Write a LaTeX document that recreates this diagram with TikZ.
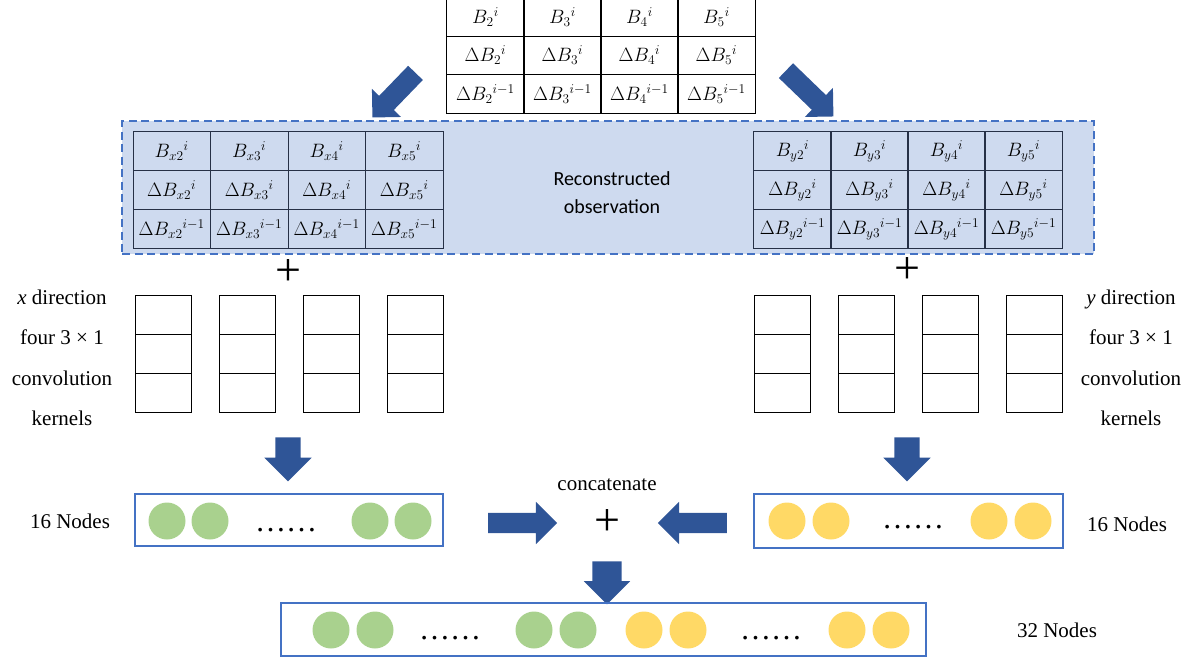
\documentclass[tikz,border=0pt]{standalone}
\usepackage{graphicx}
\usepackage{fontspec}
\setmainfont{Liberation Serif}
\newfontfamily\calibri{Carlito}
\usetikzlibrary{shapes.arrows,positioning}

\definecolor{boxblue}{RGB}{68,114,196}
\definecolor{recfill}{RGB}{206,218,239}
\definecolor{arrowblue}{RGB}{47,85,151}
\definecolor{gfill}{RGB}{169,209,142}
\definecolor{yfill}{RGB}{255,217,102}
\definecolor{gridline}{RGB}{38,48,70}

\newcommand{\cm}[1]{\scalebox{1.12}{$#1$}}

\begin{document}
\begin{tikzpicture}[x=1pt, y=-1pt,
  tcell/.style={rectangle, draw, line width=1pt, inner sep=0pt, minimum width=77.5pt, minimum height=38.5pt, font=\fontsize{17}{19}\selectfont},
  kcell/.style={rectangle, draw, line width=1pt, inner sep=0pt, minimum width=56pt, minimum height=39pt},
  blockarrow/.style={single arrow, fill=arrowblue, draw=none, inner xsep=0pt, single arrow head indent=0pt},
  vecbox/.style={rectangle, draw=boxblue, line width=1.2pt, inner sep=0pt},
  gball/.style={circle, fill=gfill, inner sep=0pt, minimum size=37pt},
  yball/.style={circle, fill=yfill, inner sep=0pt, minimum size=37pt},
  plussign/.style={inner sep=0pt, font=\fontsize{46}{46}\selectfont},
  lbl/.style={font=\fontsize{21}{40.5}\selectfont, align=center},
  dotsx/.style={anchor=base, inner sep=0pt, font=\fontsize{31}{31}\selectfont}]
  \useasboundingbox (0,0) rectangle (1198,662);

  % reconstructed observation background
  \node[rectangle, draw=boxblue, fill=recfill, dashed, dash pattern=on 8pt off 4.5pt, line width=1.2pt, minimum width=972pt, minimum height=133pt] (recbox) at (608,187.5) {};
  \node[font=\calibri\fontsize{20}{28}\selectfont, align=center] (rectext) at (612,193) {Reconstructed\\observation};

  % original table
  \foreach \c/\k in {1/2,2/3,3/4,4/5} {
    \node[tcell] (top1\c) at (447+77*\c-38.5,17) {\cm{B_{\k}{}^{i}}};
    \node[tcell] (top2\c) at (447+77*\c-38.5,55.5) {\cm{\Delta B_{\k}{}^{i}}};
    \node[tcell] (top3\c) at (447+77*\c-38.5,94) {\cm{\Delta B_{\k}{}^{i-1}}};
  }

  % x and y tables
  \foreach \c/\k in {1/2,2/3,3/4,4/5} {
    \node[tcell, draw=gridline, minimum height=39pt] (bx1\c) at (133+77.5*\c-38.75,151) {\cm{B_{x\k}{}^{i}}};
    \node[tcell, draw=gridline, minimum height=39pt] (bx2\c) at (133+77.5*\c-38.75,190) {\cm{\Delta B_{x\k}{}^{i}}};
    \node[tcell, draw=gridline, minimum height=39pt] (bx3\c) at (133+77.5*\c-38.75,229) {\cm{\Delta B_{x\k}{}^{i-1}}};
    \node[tcell, draw=gridline, minimum height=39pt] (by1\c) at (754+77*\c-38.5,151) {\cm{B_{y\k}{}^{i}}};
    \node[tcell, draw=gridline, minimum height=39pt] (by2\c) at (754+77*\c-38.5,190) {\cm{\Delta B_{y\k}{}^{i}}};
    \node[tcell, draw=gridline, minimum height=39pt] (by3\c) at (754+77*\c-38.5,229) {\cm{\Delta B_{y\k}{}^{i-1}}};
  }

  % split arrows
  \node[blockarrow, rotate=-134, minimum height=62pt, inner ysep=10pt, single arrow head extend=10pt] (splitL) at (397.5,91.5) {};
  \node[blockarrow, rotate=-44, minimum height=66pt, inner ysep=10pt, single arrow head extend=10pt] (splitR) at (806,90) {};

  \node[plussign] (plusX) at (288,272) {+};
  \node[plussign] (plusY) at (907,270) {+};

  % kernels
  \foreach \c in {0,...,3}
    \foreach \r in {0,1,2} {
      \node[kcell] (kx\c\r) at (163+84*\c,314.5+39*\r) {};
      \node[kcell] (ky\c\r) at (782+84*\c,314.5+39*\r) {};
    }
  \node[lbl] (labX) at (62,358) {\textit{x} direction\\four 3 × 1\\convolution\\kernels};
  \node[lbl] (labY) at (1131,358) {\textit{y} direction\\four 3 × 1\\convolution\\kernels};

  \node[blockarrow, rotate=-90, minimum height=44pt, inner ysep=12.5pt, single arrow head extend=11pt] (downX) at (288,453) {};
  \node[blockarrow, rotate=-90, minimum height=44pt, inner ysep=12.5pt, single arrow head extend=11pt] (downY) at (907,453) {};

  % 16 nodes each
  \node[vecbox, minimum width=308pt, minimum height=52pt] (vecX) at (289,520) {};
  \node[vecbox, minimum width=309pt, minimum height=54pt] (vecY) at (908.5,521) {};
  \foreach \p in {167,210,370,413} \node[gball] (gx\p) at (\p,521) {};
  \foreach \p in {787,831,989,1033} \node[yball] (yy\p) at (\p,521) {};
  \node[dotsx] (dotX) at (286,531.5) {……};
  \node[dotsx] (dotY) at (913,528.5) {……};
  \node[lbl] (n16X) at (70,521) {16 Nodes};
  \node[lbl] (n16Y) at (1127,524) {16 Nodes};

  % concatenate
  \node[lbl] (cattext) at (607,485) {concatenate};
  \node[plussign] (plusC) at (607,522) {+};
  \node[blockarrow, minimum height=69pt, inner ysep=10pt, single arrow head extend=11pt] (toCatL) at (517.5,523) {};
  \node[blockarrow, rotate=180, minimum height=69pt, inner ysep=10pt, single arrow head extend=11pt] (toCatR) at (697.5,523) {};
  \node[blockarrow, rotate=-90, minimum height=43pt, inner ysep=14.5pt, single arrow head extend=8.5pt] (downC) at (607,575.5) {};

  % 32 nodes
  \node[vecbox, minimum width=645pt, minimum height=53pt] (vecAll) at (603.5,629.5) {};
  \foreach \p in {331,375,534,578} \node[gball] (ga\p) at (\p,630) {};
  \foreach \p in {644,688,847,891} \node[yball] (ya\p) at (\p,630) {};
  \node[dotsx] (dotA1) at (450,639.5) {……};
  \node[dotsx] (dotA2) at (771,639.5) {……};
  \node[lbl] (n32) at (1057,630) {32 Nodes};
\end{tikzpicture}
\end{document}
